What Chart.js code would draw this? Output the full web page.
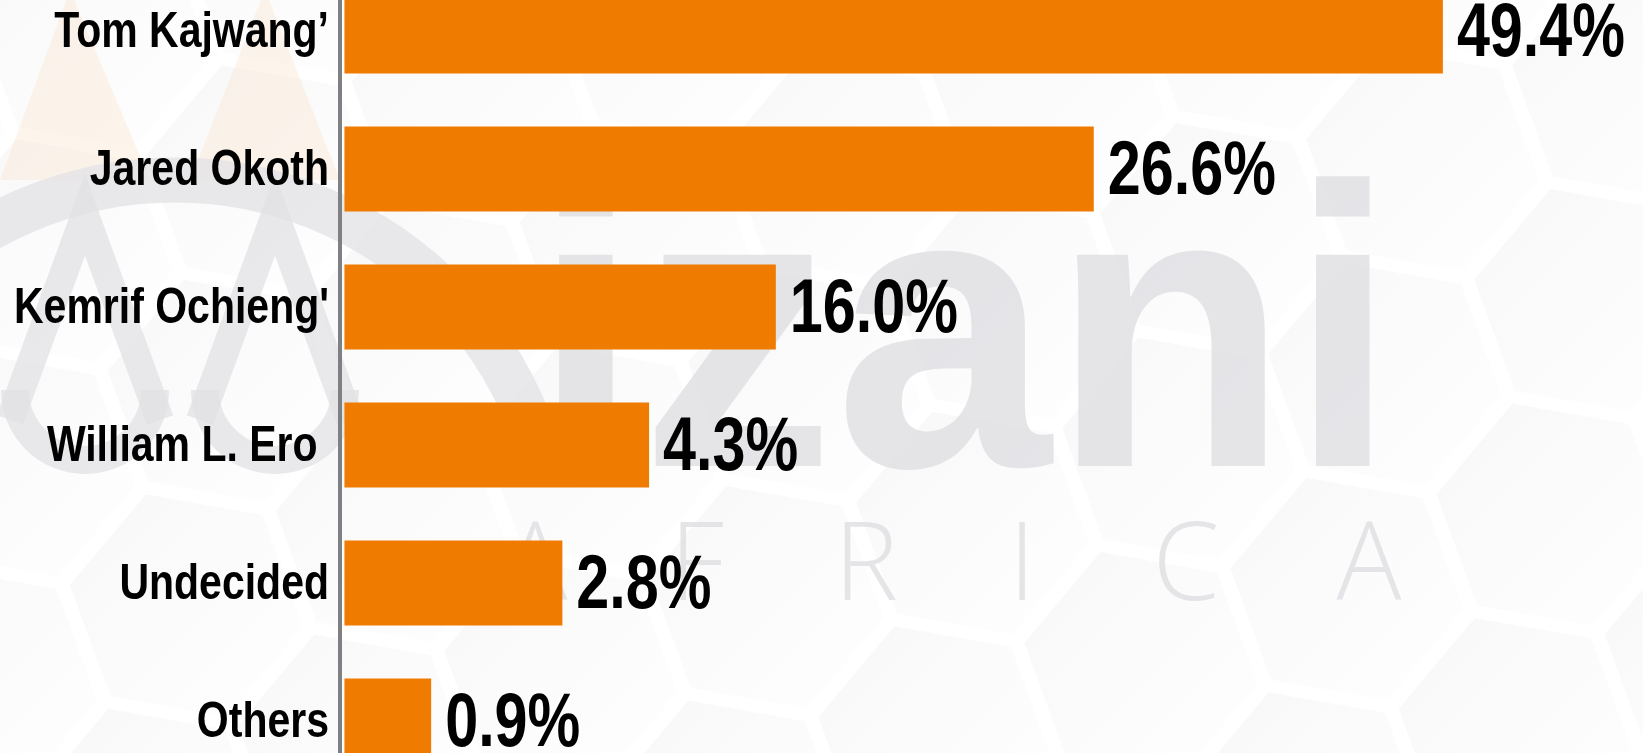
<!DOCTYPE html>
<html>
<head>
<meta charset="utf-8">
<script src="https://cdn.jsdelivr.net/npm/chart.js@4.4.1/dist/chart.umd.min.js"></script>
<style>
  html, body { margin: 0; padding: 0; background: #fff; overflow: hidden; }
  #pollChart { position: absolute; left: 0; top: -38px; }
</style>
</head>
<body>
<canvas id="pollChart" width="1643" height="828"></canvas>
<script>
const candidates = ['Tom Kajwang’', 'Jared Okoth', "Kemrif Ochieng'", 'William L. Ero ', 'Undecided', 'Others'];
const shares = [49.4, 26.6, 16.0, 4.3, 2.8, 0.9];
// bar lengths as drawn in the graphic (the bars are not to scale with the shares)
const barLengths = [49.4, 33.7, 19.4, 13.7, 9.8, 3.9];
const shareLabels = shares.map(v => v.toFixed(1) + '%');

const FONT = "'Liberation Sans', Arial, sans-serif";
const OFF = 38; // canvas sits 38px above the page top

// squeeze the bold face horizontally to get the condensed look
function narrowText(ctx, text, x, y, align, squeeze) {
  ctx.save();
  ctx.translate(x, y);
  ctx.scale(squeeze, 1);
  ctx.textAlign = align;
  ctx.fillText(text, 0, 0);
  ctx.restore();
}

const backdrop = {
  id: 'backdrop',
  beforeDraw(chart) {
    const ctx = chart.ctx;
    const w = chart.width, h = chart.height;
    ctx.save();
    ctx.fillStyle = '#ffffff';
    ctx.fillRect(0, 0, w, h);

    // hexagon pattern
    const s = 120, rot = 10 * Math.PI / 180;
    const dx = 1.5 * s + 10, dy = Math.sqrt(3) * s + 10;
    for (let c = -2; c < 12; c++) {
      for (let r = -2; r < 7; r++) {
        let cx = c * dx, cy = r * dy + (c % 2 ? dy / 2 : 0);
        const px = 300 + cx * Math.cos(rot) - cy * Math.sin(rot);
        const py = cx * Math.sin(rot) + cy * Math.cos(rot);
        ctx.beginPath();
        for (let k = 0; k < 6; k++) {
          const a = rot + k * Math.PI / 3;
          const x = px + s * Math.cos(a), y = py + s * Math.sin(a);
          k ? ctx.lineTo(x, y) : ctx.moveTo(x, y);
        }
        ctx.closePath();
        const g = ctx.createLinearGradient(px - s, py - s, px + s, py + s);
        g.addColorStop(0, 'rgba(236,236,238,0.45)');
        g.addColorStop(1, 'rgba(252,252,252,0.2)');
        ctx.fillStyle = g;
        ctx.fill();
        ctx.strokeStyle = 'rgba(255,255,255,0.9)';
        ctx.lineWidth = 3;
        ctx.stroke();
      }
    }

    // logo mark on the left
    ctx.fillStyle = 'rgba(250,226,200,0.35)';
    ctx.beginPath();
    ctx.moveTo(0, OFF + 180); ctx.lineTo(70, OFF - 10); ctx.lineTo(150, OFF + 180); ctx.closePath(); ctx.fill();
    ctx.beginPath();
    ctx.moveTo(190, OFF + 180); ctx.lineTo(265, OFF - 10); ctx.lineTo(340, OFF + 180); ctx.closePath(); ctx.fill();
    ctx.strokeStyle = 'rgba(225,226,228,0.75)';
    ctx.lineWidth = 45;
    ctx.beginPath();
    ctx.arc(175, OFF + 560, 380, Math.PI * 1.12, Math.PI * 1.9);
    ctx.stroke();
    ctx.lineWidth = 28;
    ctx.beginPath();
    ctx.moveTo(10, OFF + 420); ctx.lineTo(85, OFF + 215); ctx.lineTo(160, OFF + 420); ctx.stroke();
    ctx.beginPath();
    ctx.moveTo(200, OFF + 420); ctx.lineTo(275, OFF + 215); ctx.lineTo(350, OFF + 420); ctx.stroke();
    ctx.beginPath();
    ctx.arc(85, OFF + 390, 70, 0, Math.PI); ctx.stroke();
    ctx.beginPath();
    ctx.arc(275, OFF + 390, 70, 0, Math.PI); ctx.stroke();

    // watermark word
    ctx.fillStyle = 'rgba(222,223,226,0.8)';
    ctx.textBaseline = 'alphabetic';
    ctx.font = "bold 400px 'Liberation Sans', sans-serif";
    const word = 'izani';
    const ww = ctx.measureText(word).width;
    ctx.translate(532, OFF + 466);
    ctx.scale(865 / ww, 1);
    ctx.fillText(word, 0, 0);
    ctx.setTransform(1, 0, 0, 1, 0, 0);

    ctx.fillStyle = 'rgba(222,223,226,0.8)';
    ctx.font = "300 108px 'Open Sans', sans-serif";
    ctx.textAlign = 'center';
    const letters = ['A', 'F', 'R', 'I', 'C', 'A'];
    const lx = [535, 697, 866, 1022, 1186, 1369];
    letters.forEach((l, i) => ctx.fillText(l, lx[i], OFF + 600));
    ctx.restore();
  }
};

const textLabels = {
  id: 'textLabels',
  afterDatasetsDraw(chart) {
    const ctx = chart.ctx;
    const yScale = chart.scales.y;
    ctx.save();
    ctx.fillStyle = '#000';
    ctx.textBaseline = 'middle';
    // candidate names, right aligned against the axis line
    ctx.font = 'bold 50px ' + FONT;
    candidates.forEach((name, i) => {
      narrowText(ctx, name, chart.chartArea.left - 11, yScale.getPixelForTick(i) + 2, 'right', 0.82);
    });
    // share values after each bar
    ctx.font = 'bold 76px ' + FONT;
    chart.getDatasetMeta(0).data.forEach((bar, i) => {
      narrowText(ctx, shareLabels[i], bar.x + 14, bar.y + 4, 'left', 0.78);
    });
    ctx.restore();
  }
};

const ctx = document.getElementById('pollChart').getContext('2d');
const pollChart = new Chart(ctx, {
  type: 'bar',
  data: {
    labels: candidates,
    datasets: [{
      data: barLengths,
      backgroundColor: '#ef7b00',
      borderWidth: 0,
      categoryPercentage: 1,
      barPercentage: 0.616
    }]
  },
  options: {
    indexAxis: 'y',
    responsive: false,
    animation: false,
    layout: { padding: 0 },
    plugins: {
      legend: { display: false },
      tooltip: { enabled: false }
    },
    scales: {
      // small negative min leaves a gap between the axis line and the bars
      x: { display: false, min: -0.2, max: 58.4 },
      y: {
        afterFit(scale) { scale.width = 340; },
        grid: { display: false, drawTicks: false },
        border: { display: true, color: '#7f8083', width: 4 },
        ticks: { display: false }
      }
    }
  },
  plugins: [backdrop, textLabels]
});
</script>
</body>
</html>
